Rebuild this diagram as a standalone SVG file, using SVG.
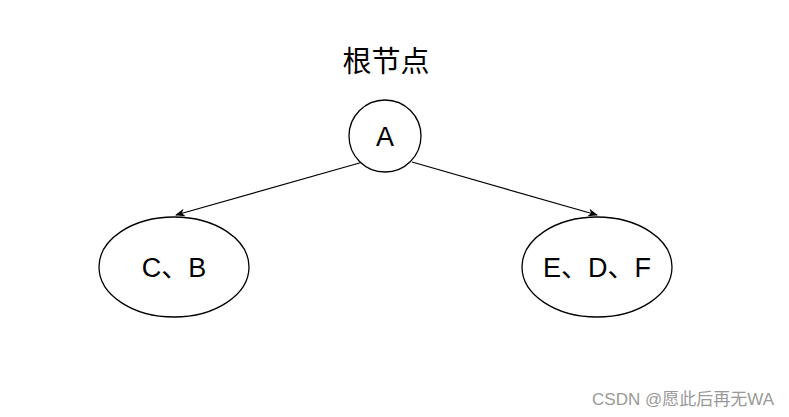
<svg xmlns="http://www.w3.org/2000/svg" width="789" height="417" viewBox="0 0 789 417">
<style>
.n{fill:#fff;stroke:#000;stroke-width:1.3}
.t{font-family:"Liberation Sans","Noto Sans CJK SC",sans-serif;font-size:27px;fill:#000;text-anchor:middle}
.c{stroke:#000;stroke-width:1.2;fill:none;marker-end:url(#a)}
</style>
<defs><marker id="a" markerWidth="10" markerHeight="8" refX="9" refY="4" orient="auto" markerUnits="userSpaceOnUse"><path d="M0,0 L10,4 L0,8 L3,4 Z" fill="#000"/></marker></defs>
<rect width="789" height="417" fill="#fff"/>
<g id="title"><text class="t" x="386" y="72" style="font-size:29px">根节点</text></g>
<g id="connectors">
<path class="c" d="M363,162 L176,215"/>
<path class="c" d="M412,162 L597,215"/>
</g>
<g id="A"><circle class="n" cx="385" cy="136" r="36"/><text class="t" x="385" y="146">A</text></g>
<g id="CB"><ellipse class="n" cx="174" cy="267" rx="75" ry="50"/><text class="t" x="174" y="277">C、B</text></g>
<g id="EDF"><ellipse class="n" cx="597" cy="267" rx="75" ry="50"/><text class="t" x="597" y="277">E、D、F</text></g>
<text x="774" y="405" font-family="Liberation Sans,Noto Sans CJK SC,sans-serif" font-size="17" fill="#999" text-anchor="end">CSDN @愿此后再无WA</text>
</svg>
